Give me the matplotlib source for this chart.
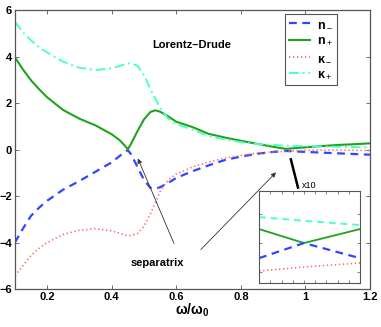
import matplotlib
matplotlib.use("Agg")
import matplotlib.pyplot as plt

plt.rcParams['font.family'] = ['Liberation Sans', 'DejaVu Sans']
plt.rcParams['mathtext.fontset'] = 'custom'
plt.rcParams['mathtext.rm'] = 'Liberation Sans'
plt.rcParams['mathtext.it'] = 'Liberation Sans:italic'
plt.rcParams['mathtext.bf'] = 'Liberation Sans:bold'

# frequency grid (omega / omega_0)
w = [0.1, 0.125, 0.15, 0.175, 0.2, 0.25, 0.3, 0.35, 0.4, 0.425, 0.44, 0.45,
     0.46, 0.48, 0.5, 0.52, 0.535, 0.55, 0.575, 0.6, 0.65, 0.7, 0.75, 0.8,
     0.85, 0.9, 0.94, 1.0, 1.05, 1.1, 1.15, 1.2]

n_minus = [-4.0, -3.4, -2.85, -2.5, -2.2, -1.72, -1.35, -0.95, -0.55, -0.27,
           -0.1, -0.02, -0.2, -0.75, -1.3, -1.65, -1.68, -1.62, -1.43, -1.22,
           -0.93, -0.68, -0.45, -0.3, -0.18, -0.1, -0.06, -0.1, -0.13, -0.16,
           -0.19, -0.22]
n_plus = [3.97, 3.45, 2.98, 2.6, 2.25, 1.7, 1.33, 1.04, 0.66, 0.4, 0.18, 0.02,
          0.25, 0.8, 1.3, 1.62, 1.69, 1.63, 1.43, 1.2, 0.97, 0.68, 0.52, 0.38,
          0.25, 0.12, 0.03, 0.1, 0.15, 0.2, 0.23, 0.27]
k_minus = [-5.42, -5.0, -4.55, -4.25, -4.0, -3.65, -3.47, -3.4, -3.5, -3.6,
           -3.67, -3.7, -3.7, -3.6, -3.3, -2.75, -2.3, -1.8, -1.3, -1.05,
           -0.75, -0.53, -0.37, -0.25, -0.16, -0.1, -0.07, -0.03, -0.02, -0.02,
           -0.03, -0.04]
k_plus = [5.5, 5.05, 4.7, 4.4, 4.18, 3.78, 3.52, 3.42, 3.5, 3.6, 3.67, 3.7,
          3.72, 3.6, 3.2, 2.6, 2.2, 1.8, 1.33, 1.1, 0.86, 0.59, 0.44, 0.32,
          0.24, 0.2, 0.17, 0.15, 0.13, 0.12, 0.11, 0.1]

# zoomed region (x10) near the crossing at omega ~ 0.95
w_zoom = [0.91, 0.95, 1.0]
n_minus_zoom = [-0.053, 0.0, -0.053]
n_plus_zoom = [0.049, 0.0, 0.049]
k_minus_zoom = [-0.098, -0.084, -0.07]
k_plus_zoom = [0.091, 0.078, 0.063]

c_blue = '#3046ff'
c_green = '#1fa31f'
c_red = '#ff6a6a'
c_cyan = '#4dffc4'
c_axis = '#555555'

fig = plt.figure(figsize=(3.81, 3.27), dpi=100)
ax = fig.add_axes([0.039, 0.116, 0.932, 0.853])

ax.plot(w, n_minus, color=c_blue, lw=1.6, ls=(0, (3.5, 2.5)), label='n$_-$')
ax.plot(w, n_plus, color=c_green, lw=1.5, ls='-', label='n$_+$')
ax.plot(w, k_minus, color=c_red, lw=1.2, ls=(0, (0.8, 1.6)), label='\u03ba$_-$')
ax.plot(w, k_plus, color=c_cyan, lw=1.4, ls=(0, (5, 2, 1, 2)), label='\u03ba$_+$')

ax.set_xlim(0.1, 1.2)
ax.set_ylim(-6, 6)
ax.set_xticks([0.2, 0.4, 0.6, 0.8, 1.0, 1.2])
ax.set_xticklabels(['0.2', '0.4', '0.6', '0.8', '1', '1.2'])
ax.set_yticks([-6, -4, -2, 0, 2, 4, 6])
ax.tick_params(direction='in', top=True, right=True, length=3, width=0.6,
               color=c_axis, labelsize=8, pad=2)
for lab in ax.get_xticklabels() + ax.get_yticklabels():
    lab.set_fontweight('bold')
for s in ax.spines.values():
    s.set_color(c_axis)
    s.set_linewidth(0.9)

ax.set_xlabel(r'$\mathbf{\omega/\omega_0}$', fontsize=10, labelpad=0)

leg = ax.legend(loc='upper right', bbox_to_anchor=(0.907, 0.986),
                prop={'size': 9, 'weight': 'bold'},
                handlelength=1.7, handletextpad=0.5, labelspacing=0.38,
                borderpad=0.35, borderaxespad=0, fancybox=False, framealpha=1)
leg.get_frame().set_edgecolor(c_axis)
leg.get_frame().set_linewidth(0.8)

ax.text(0.648, 4.49, 'Lorentz\u2013Drude', fontsize=8, fontweight='bold',
        ha='center', va='center')
ax.text(0.54, -4.86, 'separatrix', fontsize=8, fontweight='bold',
        ha='center', va='center')

arrow = dict(arrowstyle='-|>', color='#333333', lw=0.6, mutation_scale=7,
             shrinkA=0, shrinkB=0)
ax.annotate('', xy=(0.481, -0.38), xytext=(0.593, -4.04), arrowprops=arrow)
ax.annotate('', xy=(0.909, -0.98), xytext=(0.676, -4.30), arrowprops=arrow)
ax.plot([0.955, 0.977], [-0.42, -1.63], color='black', lw=1.8)
ax.text(0.99, -1.54, 'x10', fontsize=6.5, ha='left', va='center')

# inset
ins = fig.add_axes([0.680, 0.1346, 0.265, 0.281])
ins.plot(w_zoom, k_plus_zoom, color=c_cyan, lw=1.4, ls=(0, (3.5, 2.5)))
ins.plot(w_zoom, n_plus_zoom, color=c_green, lw=1.3)
ins.plot(w_zoom, n_minus_zoom, color=c_blue, lw=1.6, ls=(0, (3.5, 2.5)))
ins.plot(w_zoom, k_minus_zoom, color=c_red, lw=1.2, ls=(0, (0.8, 1.6)))
ins.set_xlim(0.91, 1.0)
ins.set_ylim(-0.14, 0.182)
ins.set_xticks([0.91 + 0.01 * i for i in range(10)])
ins.set_yticks([-0.1, 0.0, 0.1])
ins.tick_params(direction='in', top=True, right=True, length=2, width=0.5,
                color=c_axis, labelbottom=False, labelleft=False)
for s in ins.spines.values():
    s.set_color(c_axis)
    s.set_linewidth(0.8)

fig.savefig('out.png', dpi=100)
